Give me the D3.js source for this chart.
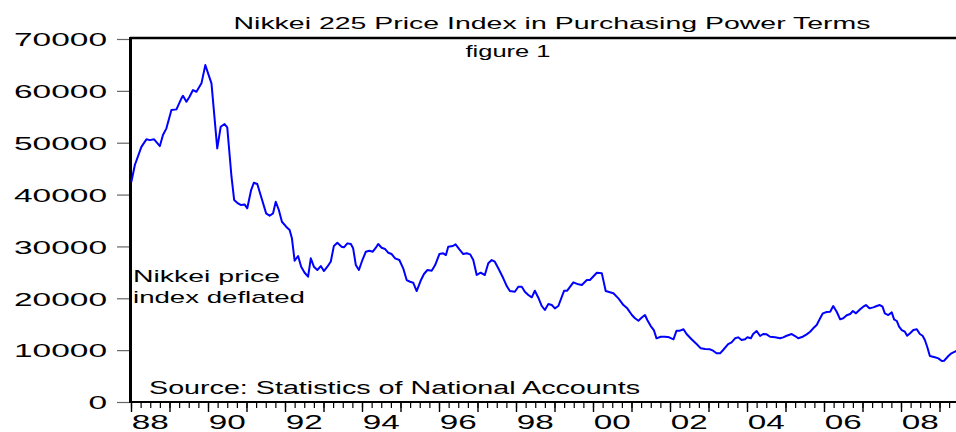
<!DOCTYPE html>
<html>
<head>
<meta charset="utf-8">
<script src="https://cdn.jsdelivr.net/npm/d3@7"></script>
<style>
  body { margin: 0; background: #fff; }
  svg { display: block; font-family: Arial, "Liberation Sans", sans-serif; }
</style>
</head>
<body>
<svg id="chart" width="956" height="432"></svg>
<script>
// dates (decimal years) and deflated Nikkei values
const dates = [
  1988.01, 1988.10, 1988.27, 1988.40, 1988.49, 1988.60, 1988.75, 1988.83, 1988.92,
  1989.05, 1989.18, 1989.31, 1989.35, 1989.44, 1989.52, 1989.61, 1989.70, 1989.83, 1989.93,
  1990.09, 1990.24, 1990.33, 1990.43, 1990.50, 1990.61, 1990.68, 1990.78, 1990.86, 1990.95,
  1991.02, 1991.12, 1991.19, 1991.28, 1991.38, 1991.51, 1991.60, 1991.69, 1991.76, 1991.84, 1991.92,
  1992.03, 1992.12, 1992.18, 1992.25, 1992.34, 1992.42, 1992.51, 1992.60, 1992.67, 1992.75, 1992.84, 1992.93,
  1993.01, 1993.10, 1993.19, 1993.27, 1993.36, 1993.47, 1993.53, 1993.62, 1993.71, 1993.77, 1993.84, 1993.92,
  1994.01, 1994.10, 1994.19, 1994.28, 1994.36, 1994.42, 1994.51, 1994.60, 1994.68, 1994.77, 1994.86, 1994.97,
  1995.07, 1995.16, 1995.25, 1995.33, 1995.42, 1995.52, 1995.61, 1995.70, 1995.81, 1995.90,
  1996.01, 1996.11, 1996.18, 1996.24, 1996.36, 1996.43, 1996.53, 1996.63, 1996.72, 1996.81, 1996.89, 1996.98,
  1997.08, 1997.19, 1997.28, 1997.37, 1997.45, 1997.54, 1997.67, 1997.76, 1997.84, 1997.97,
  1998.06, 1998.15, 1998.23, 1998.32, 1998.41, 1998.49, 1998.58, 1998.67, 1998.75, 1998.84, 1998.93,
  1999.01, 1999.10, 1999.25, 1999.33, 1999.49, 1999.62, 1999.71, 1999.84, 1999.92,
  2000.10, 2000.23, 2000.33, 2000.44, 2000.53, 2000.66, 2000.79, 2000.89,
  2001.01, 2001.09, 2001.18, 2001.26, 2001.35, 2001.41, 2001.50, 2001.58, 2001.65, 2001.76, 2001.87, 2001.98,
  2002.09, 2002.17, 2002.26, 2002.35, 2002.43, 2002.56, 2002.69, 2002.80, 2002.91,
  2003.04, 2003.12, 2003.21, 2003.30, 2003.38, 2003.51, 2003.60, 2003.69, 2003.77, 2003.86, 2003.95,
  2004.01, 2004.10, 2004.16, 2004.25, 2004.34, 2004.42, 2004.51, 2004.60, 2004.73, 2004.86, 2004.94,
  2005.03, 2005.16, 2005.25, 2005.33, 2005.45, 2005.55, 2005.64, 2005.72, 2005.81, 2005.90, 2005.97,
  2006.07, 2006.16, 2006.24, 2006.33, 2006.42, 2006.50, 2006.59, 2006.68, 2006.75, 2006.83, 2006.94,
  2007.02, 2007.09, 2007.18, 2007.28, 2007.37, 2007.45, 2007.52, 2007.58, 2007.67, 2007.76, 2007.82, 2007.89, 2007.95,
  2008.02, 2008.10, 2008.16, 2008.25, 2008.32, 2008.41, 2008.49, 2008.56, 2008.62, 2008.68, 2008.75, 2008.88, 2008.97,
  2009.06, 2009.12, 2009.23, 2009.31, 2009.40, 2009.46
];
const values = [
  42470, 45700, 49200, 50650, 50500, 50650, 49350, 51500, 52770,
  56300, 56430, 58550, 59050, 57900, 58860, 60150, 59830, 61450, 64970,
  61450, 48900, 53080, 53600, 52960, 43440, 38950, 38300, 37980, 38100,
  37350, 40870, 42280, 42030, 39580, 36380, 35920, 36380, 38620, 37020, 34760,
  33800, 33160, 31560, 27240, 28150, 26090, 24930, 24160, 27700, 26090, 25450, 26220,
  25260, 26090, 27100, 30100, 30710, 29940, 29820, 30590, 30460, 29630, 26410, 25450,
  27380, 28980, 29170, 28980, 29750, 30460, 29750, 29500, 28790, 28530, 27700, 27380,
  25780, 23520, 23190, 23000, 21400, 23330, 24680, 25450, 25320, 26410,
  28530, 28670, 28340, 29940, 30080, 30400, 29440, 28530, 28670, 28470, 27380, 24490,
  24930, 24490, 26740, 27380, 27050, 25780, 23850, 22360, 21400, 21270,
  22230, 22230, 21270, 20630, 20190, 21460, 20110, 18510, 17740, 18890, 18700,
  18060, 18510, 21460, 21460, 23080, 22690, 22560, 23520, 23520,
  24930, 24810, 21400, 21150, 20960, 19990, 18700, 18060,
  16770, 16140, 15670, 16250, 16770, 15810, 14650, 13880, 12280, 12590, 12590, 12470,
  12090, 13750, 13750, 14020, 13110, 12090, 11180, 10350, 10220,
  10160, 9890, 9390, 9390, 10030, 11180, 11510, 12280, 12470, 11950, 12090,
  12470, 12280, 13110, 13690, 12720, 13110, 13050, 12590, 12470, 12280, 12470,
  12780, 13110, 12720, 12280, 12590, 13050, 13550, 14210, 14850, 16140, 17100,
  17350, 17410, 18510, 17410, 15940, 16140, 16720, 16970, 17540, 17100, 17870,
  18380, 18700, 18060, 18250, 18510, 18700, 18380, 17100, 16770, 17290, 15940, 15620, 14520,
  13880, 13550, 12780, 13360, 13880, 14020, 13110, 12780, 11950, 10660, 8870, 8620, 8410,
  7900, 7960, 8870, 9390, 9700, 9950
];
const yTicks = [0, 10000, 20000, 30000, 40000, 50000, 60000, 70000];
const yearLabels = [1988, 1990, 1992, 1994, 1996, 1998, 2000, 2002, 2004, 2006, 2008];

const svg = d3.select('#chart');
const plotLeft = 131, plotRight = 978, plotTop = 38, plotBottom = 402;

const x = d3.scaleLinear().domain([1988, 2010]).range([plotLeft, plotRight]);
const y = d3.scaleLinear().domain([0, 70000]).range([plotBottom, plotTop + 1]);

// stretched text helper: the original type is set wide
function label(str, px, py, size, anchor, width) {
  return svg.append('text')
    .attr('x', px).attr('y', py)
    .attr('font-size', size)
    .attr('text-anchor', anchor)
    .attr('textLength', width)
    .attr('lengthAdjust', 'spacingAndGlyphs')
    .attr('fill', '#000')
    .text(str);
}

// y axis
const yAxis = svg.append('g')
  .attr('transform', `translate(${plotLeft - 1},0)`)
  .call(d3.axisLeft(y).tickValues(yTicks).tickSize(13).tickSizeOuter(0).tickPadding(10).tickFormat(d3.format('d')));
yAxis.select('.domain').remove();
yAxis.selectAll('.tick line').attr('stroke', '#666').attr('stroke-width', 1.2);
yAxis.selectAll('.tick text')
  .attr('font-size', 19)
  .attr('font-family', 'Arial, "Liberation Sans", sans-serif')
  .attr('dy', '0.36em')
  .attr('fill', '#000')
  .attr('textLength', d => String(d).length * 18.6)
  .attr('lengthAdjust', 'spacingAndGlyphs');

// x axis: quarterly minor ticks, yearly major ticks
const quarters = d3.range(1988, 2010.01, 0.25);
const years = d3.range(1988, 2011, 1);
svg.append('g')
  .attr('transform', `translate(0,${plotBottom})`)
  .call(d3.axisBottom(x).tickValues(quarters).tickSize(6).tickFormat(''))
  .call(g => g.select('.domain').remove())
  .selectAll('.tick line').attr('stroke', '#000').attr('stroke-width', 1.2);
svg.append('g')
  .attr('transform', `translate(0,${plotBottom})`)
  .call(d3.axisBottom(x).tickValues(years).tickSize(10).tickFormat(''))
  .call(g => g.select('.domain').remove())
  .selectAll('.tick line').attr('stroke', '#000').attr('stroke-width', 1.4);

yearLabels.forEach(yr => {
  label(String(yr).slice(2), x(yr + 0.5), 429, 21, 'middle', 37);
});

// frame: thick left axis, top and bottom lines
svg.append('line').attr('x1', plotLeft - 1).attr('x2', plotRight).attr('y1', plotTop).attr('y2', plotTop)
  .attr('stroke', '#000').attr('stroke-width', 2.5);
svg.append('line').attr('x1', plotLeft - 1).attr('x2', plotRight).attr('y1', plotBottom).attr('y2', plotBottom)
  .attr('stroke', '#000').attr('stroke-width', 2);
svg.append('line').attr('x1', plotLeft - 0.5).attr('x2', plotLeft - 0.5).attr('y1', plotTop - 1).attr('y2', plotBottom + 1)
  .attr('stroke', '#000').attr('stroke-width', 3);

// series
const series = dates.map((t, i) => ({ t: t, v: values[i] }));
svg.append('path')
  .datum(series)
  .attr('fill', 'none')
  .attr('stroke', '#0000ff')
  .attr('stroke-width', 2)
  .attr('stroke-linejoin', 'round')
  .attr('d', d3.line().x(d => x(d.t)).y(d => y(d.v)));

// titles and notes
label('Nikkei 225 Price Index in Purchasing Power Terms', 552, 29, 17, 'middle', 637);
label('figure 1', 508, 57, 17, 'middle', 85);
label('Nikkei price', 133, 282, 17, 'start', 147);
label('index deflated', 133, 303, 17, 'start', 172);
label('Source: Statistics of National Accounts', 149, 394, 18, 'start', 491);
</script>
</body>
</html>
